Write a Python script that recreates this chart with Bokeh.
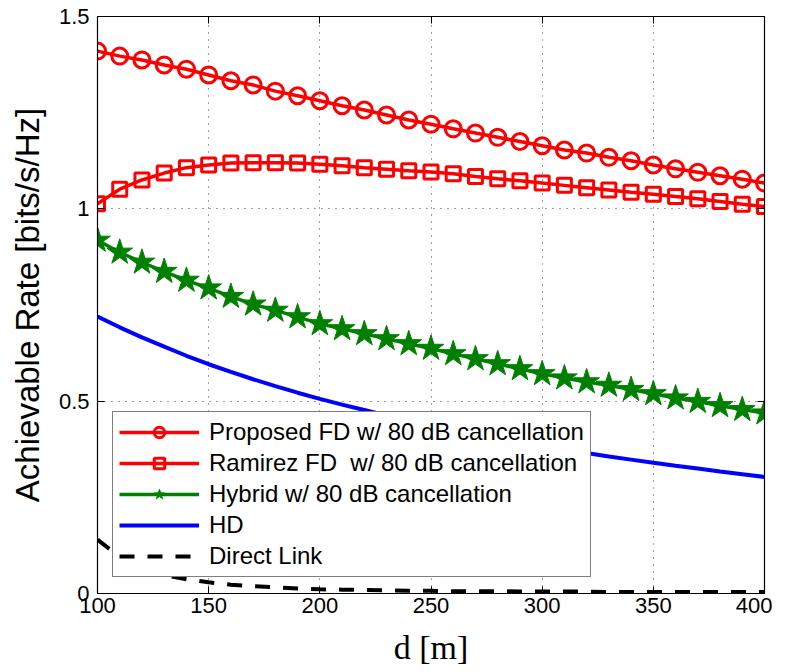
from bokeh.plotting import figure
from bokeh.models import FixedTicker, LinearAxis, Range1d, Legend, LegendItem
from bokeh.embed import file_html
from bokeh.resources import INLINE

# ---------------- data ----------------
distance = list(range(100, 401, 10))
proposed_fd = [1.410, 1.397, 1.387, 1.374, 1.363, 1.348, 1.333, 1.322, 1.306, 1.294,
               1.281, 1.268, 1.257, 1.244, 1.231, 1.220, 1.208, 1.197, 1.186, 1.175,
               1.164, 1.153, 1.145, 1.134, 1.125, 1.114, 1.104, 1.095, 1.086, 1.077, 1.067]
ramirez_fd = [1.013, 1.051, 1.075, 1.093, 1.107, 1.114, 1.119, 1.120, 1.120, 1.119,
              1.116, 1.112, 1.107, 1.103, 1.099, 1.096, 1.091, 1.084, 1.078, 1.073,
              1.067, 1.061, 1.055, 1.049, 1.043, 1.038, 1.032, 1.026, 1.019, 1.012, 1.006]
hybrid = [0.918, 0.887, 0.861, 0.837, 0.814, 0.794, 0.772, 0.752, 0.736, 0.719,
          0.701, 0.688, 0.675, 0.662, 0.649, 0.637, 0.623, 0.610, 0.597, 0.584,
          0.571, 0.560, 0.550, 0.541, 0.530, 0.519, 0.508, 0.499, 0.488, 0.478, 0.469]
hd = [0.720, 0.692, 0.666, 0.642, 0.618, 0.596, 0.576, 0.557, 0.539, 0.522,
      0.506, 0.491, 0.477, 0.463, 0.450, 0.438, 0.426, 0.415, 0.404, 0.394,
      0.384, 0.374, 0.365, 0.356, 0.348, 0.340, 0.332, 0.325, 0.317, 0.310, 0.303]
direct_link = [0.140, 0.095, 0.066, 0.048, 0.037, 0.029, 0.023, 0.019, 0.016, 0.013,
               0.011, 0.010, 0.009, 0.008, 0.007, 0.007, 0.006, 0.006, 0.006, 0.005,
               0.005, 0.005, 0.005, 0.004, 0.004, 0.004, 0.004, 0.004, 0.004, 0.004, 0.004]

series_labels = ["Proposed FD w/ 80 dB cancellation",
                 "Ramirez FD  w/ 80 dB cancellation",
                 "Hybrid w/ 80 dB cancellation",
                 "HD",
                 "Direct Link"]

x_ticks = [100, 150, 200, 250, 300, 350, 400]
x_tick_labels = ["100", "150", "200", "250", "300", "350", "400"]
y_ticks = [0, 0.5, 1, 1.5]
y_tick_labels = ["0", "0.5", "1", "1.5"]

# ---------------- figure ----------------
p = figure(frame_width=667, frame_height=577,
           x_range=Range1d(100, 400), y_range=Range1d(0, 1.5),
           output_backend="svg", toolbar_location=None,
           min_border_left=97, min_border_right=8, min_border_top=16, min_border_bottom=70,
           background_fill_color="white", border_fill_color="white",
           outline_line_color="black", outline_line_width=1)

SANS = "Liberation Sans"

for ax, ticks, labels in ((p.xaxis[0], x_ticks, x_tick_labels), (p.yaxis[0], y_ticks, y_tick_labels)):
    ax.ticker = FixedTicker(ticks=ticks)
    ax.major_label_overrides = dict(zip(ticks, labels))
    ax.major_tick_in = 7
    ax.major_tick_out = 0
    ax.minor_tick_line_color = None
    ax.axis_line_color = "black"
    ax.axis_line_width = 1.2
    ax.major_tick_line_color = "black"
    ax.major_label_text_font = SANS
    ax.major_label_text_font_size = "22px"
    ax.major_label_text_color = "black"

p.xaxis.major_label_standoff = 4
p.yaxis.major_label_standoff = 8

p.xaxis.axis_label = "d [m]"
p.xaxis.axis_label_text_font = "Liberation Serif"
p.xaxis.axis_label_text_font_size = "34px"
p.xaxis.axis_label_text_font_style = "normal"
p.xaxis.axis_label_text_color = "black"
p.xaxis.axis_label_standoff = 13

p.yaxis.axis_label = "Achievable Rate [bits/s/Hz]"
p.yaxis.axis_label_text_font = SANS
p.yaxis.axis_label_text_font_size = "33px"
p.yaxis.axis_label_text_font_style = "normal"
p.yaxis.axis_label_text_color = "black"
p.yaxis.axis_label_standoff = 10

# box axes (top/right) with inward ticks, no labels
top = LinearAxis(ticker=FixedTicker(ticks=x_ticks), major_tick_in=7, major_tick_out=0,
                 minor_tick_line_color=None, major_label_text_font_size="0px",
                 major_label_text_color=None, major_label_standoff=0, axis_line_width=1.2)
right = LinearAxis(ticker=FixedTicker(ticks=y_ticks), major_tick_in=7, major_tick_out=0,
                   minor_tick_line_color=None, major_label_text_font_size="0px",
                   major_label_text_color=None, major_label_standoff=0, axis_line_width=1.2)
p.add_layout(top, "above")
p.add_layout(right, "right")

# grid
p.xgrid.ticker = FixedTicker(ticks=x_ticks)
p.ygrid.ticker = FixedTicker(ticks=y_ticks)
for g in (p.xgrid[0], p.ygrid[0]):
    g.grid_line_color = "black"
    g.grid_line_alpha = 0.75
    g.grid_line_dash = "1 6"
    g.grid_line_width = 1

# ---------------- series ----------------
RED = "#ff0000"
GREEN = "#008000"
BLUE = "#0000ff"

l_dir = p.line(distance, direct_link, line_color="black", line_width=4, line_dash="15 13")
l_hd = p.line(distance, hd, line_color=BLUE, line_width=4)

l_hyb = p.line(distance, hybrid, line_color=GREEN, line_width=3.5)
m_hyb = p.scatter(distance, hybrid, marker="star", size=27, line_color=GREEN,
                  fill_color=GREEN, line_width=1)

l_ram = p.line(distance, ramirez_fd, line_color=RED, line_width=3.5)
m_ram = p.scatter(distance, ramirez_fd, marker="square", size=14, line_color=RED,
                  fill_color=None, line_width=3)

l_pro = p.line(distance, proposed_fd, line_color=RED, line_width=3.5)
m_pro = p.scatter(distance, proposed_fd, marker="circle", size=16, line_color=RED,
                  fill_color=None, line_width=3)

legend = Legend(items=[
    LegendItem(label=series_labels[0], renderers=[l_pro, m_pro]),
    LegendItem(label=series_labels[1], renderers=[l_ram, m_ram]),
    LegendItem(label=series_labels[2], renderers=[l_hyb, m_hyb]),
    LegendItem(label=series_labels[3], renderers=[l_hd]),
    LegendItem(label=series_labels[4], renderers=[l_dir]),
], location=(15, 16), border_line_color="black", border_line_width=1,
    background_fill_color="white", background_fill_alpha=1,
    label_text_font=SANS, label_text_font_size="24px", label_text_color="black",
    glyph_width=80, glyph_height=26, label_height=26, spacing=3, padding=6,
    margin=0, label_standoff=10)
p.add_layout(legend)

open("out.html", "w").write(file_html(p, INLINE))
